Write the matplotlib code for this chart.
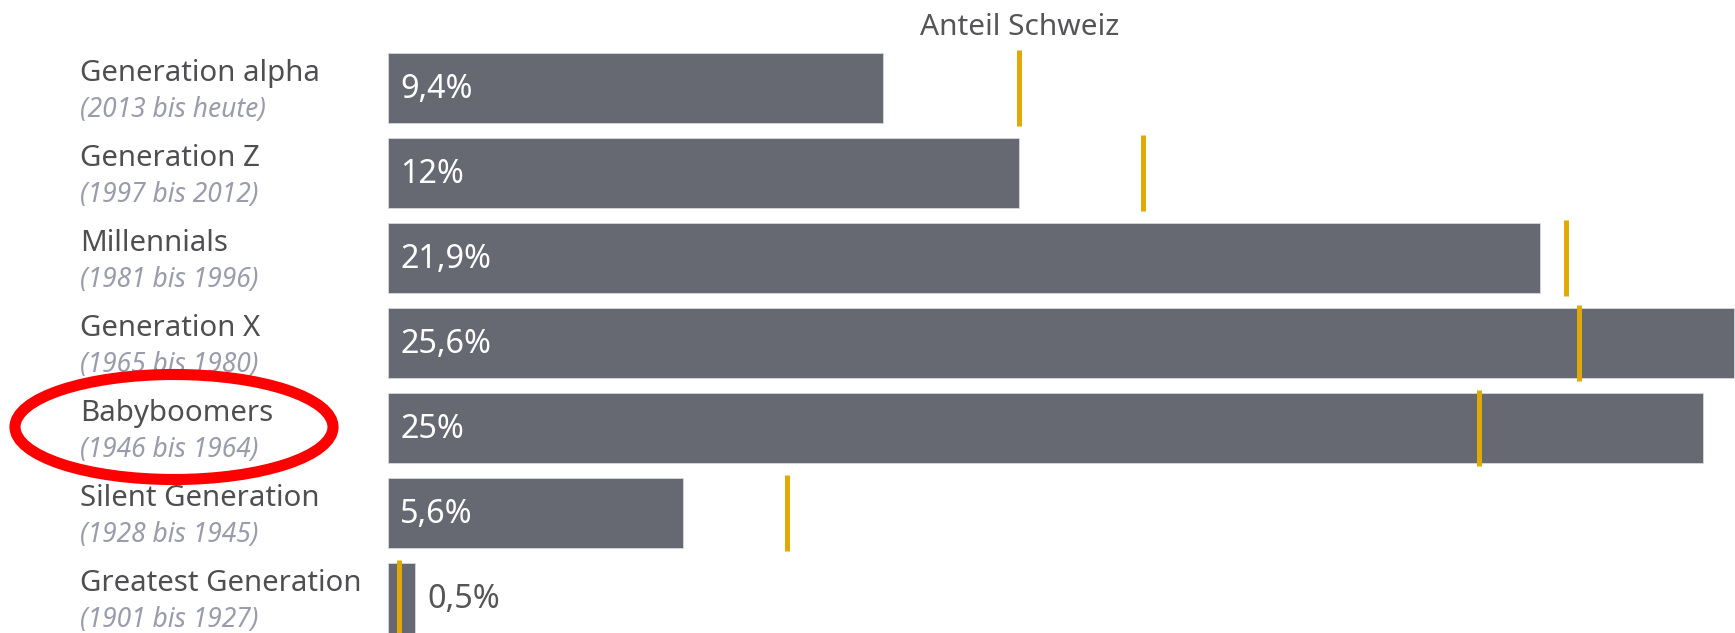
import matplotlib
matplotlib.use("Agg")
import matplotlib.pyplot as plt
from matplotlib.patches import Ellipse

# ---- data ----
generations = ["Generation alpha", "Generation Z", "Millennials", "Generation X",
               "Babyboomers", "Silent Generation", "Greatest Generation"]
periods = ["(2013 bis heute)", "(1997 bis 2012)", "(1981 bis 1996)", "(1965 bis 1980)",
           "(1946 bis 1964)", "(1928 bis 1945)", "(1901 bis 1927)"]
shares = [9.4, 12.0, 21.9, 25.6, 25.0, 5.6, 0.5]
value_labels = ["9,4%", "12%", "21,9%", "25,6%", "25%", "5,6%", "0,5%"]
swiss_shares = [12.0, 14.35, 22.4, 22.65, 20.75, 7.58, 0.21]
marker_title = "Anteil Schweiz"

# ---- style ----
FONT = "Noto Sans"
BAR_COLOR = "#666872"
MARK_COLOR = "#e1a905"
LABEL_COLOR = "#4f4f52"
SUB_COLOR = "#9a9cab"

W, H = 1735, 633
fig = plt.figure(figsize=(W / 100, H / 100), dpi=100)

left_px = 388.3
px_per_unit = 52.58
pitch = 85.0
first_center = 88.3

ax = fig.add_axes([left_px / W, 0, 1 - left_px / W, 1])
ax.set_xlim(0, (W - left_px) / px_per_unit)
ax.set_ylim((H - first_center) / pitch, -first_center / pitch)
ax.axis("off")

ypos = list(range(len(generations)))
ax.barh(ypos, shares, height=70 / pitch, color=BAR_COLOR, edgecolor="#d8d9dd",
        linewidth=0.6, zorder=2)
ax.vlines(swiss_shares, [y - 38 / pitch for y in ypos], [y + 38 / pitch for y in ypos],
          color=MARK_COLOR, linewidth=3.6, zorder=3)

label_x = (80 - left_px) / px_per_unit
for y, name, per in zip(ypos, generations, periods):
    ax.annotate(name, (label_x, y), xytext=(0, 7), textcoords="offset pixels",
                ha="left", va="baseline", fontsize=21.2, color=LABEL_COLOR,
                family=FONT, annotation_clip=False)
    ax.annotate(per, (label_x, y), xytext=(0, -29), textcoords="offset pixels",
                ha="left", va="baseline", fontsize=19, color=SUB_COLOR,
                style="italic", family=FONT, annotation_clip=False)

for y, v, lab in zip(ypos, shares, value_labels):
    if v > 3:
        ax.annotate(lab, (0, y), xytext=(11.7, -10), textcoords="offset pixels",
                    ha="left", va="baseline", fontsize=23.3, color="white",
                    family=FONT, zorder=4)
    else:
        ax.annotate(lab, (v, y), xytext=(13, -10), textcoords="offset pixels",
                    ha="left", va="baseline", fontsize=23.3, color="#555558",
                    family=FONT, zorder=4)

ax.annotate(marker_title, (swiss_shares[0], 0), xytext=(0, first_center - 35),
            textcoords="offset pixels", ha="center", va="baseline",
            fontsize=21.5, color="#555558", family=FONT, annotation_clip=False)

# red highlight ellipse around Babyboomers label
ell = Ellipse((174 / W, 1 - 427 / H), 318 / W, 105 / H, transform=fig.transFigure,
              fill=False, edgecolor="#ff0000", linewidth=8)
fig.add_artist(ell)

fig.savefig("out.png", dpi=100)
